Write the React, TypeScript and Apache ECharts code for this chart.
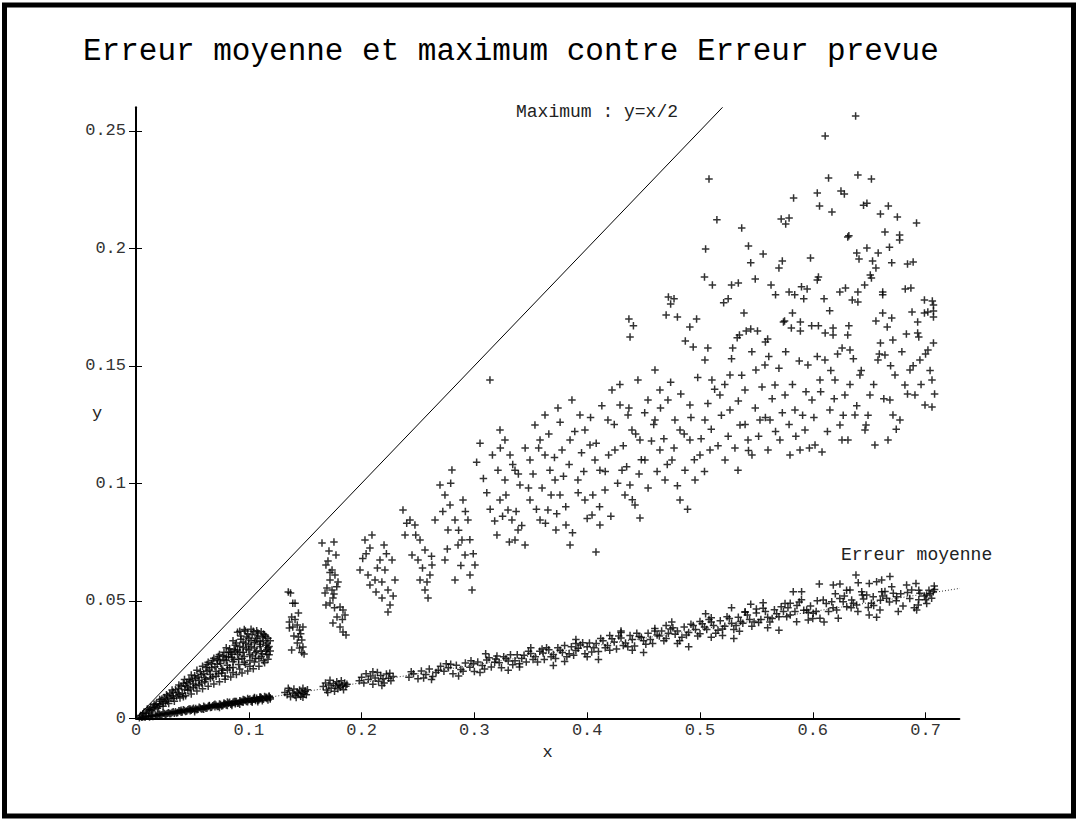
import React, { useEffect, useRef } from "react";
import * as echarts from "echarts";

const titleText = "Erreur moyenne et maximum contre Erreur prevue";
const maxLabel = "Maximum : y=x/2";
const meanLabel = "Erreur moyenne";
const xName = "x";
const yName = "y";

const xTicks = [0, 0.1, 0.2, 0.3, 0.4, 0.5, 0.6, 0.7];
const yTicks = [0, 0.05, 0.1, 0.15, 0.2, 0.25];
const xMax = 0.73;
const yMax = 0.26;

// reference lines
const maxLine = [[0, 0], [0.52, 0.26]];
const meanLine = [[0, 0], [0.7305, 0.0553]];

// maximum error: dense wedge near origin
const maxNear = [
  [0.004,0.0012],[0.006,0.0019],[0.009,0.0022],[0.011,0.0031],[0.012,0.0037],[0.014,0.0032],[0.016,0.0046],[0.017,0.0056],[0.019,0.0043],[0.021,0.0059],[0.022,0.0073],[0.024,0.0051],[0.026,0.0069],[0.025,0.0089],[0.027,0.0081],[0.029,0.0063],[0.031,0.0086],[0.030,0.0106],[0.032,0.0096],[0.034,0.0073],[0.036,0.0093],[0.035,0.0121],[0.037,0.0109],[0.039,0.0086],[0.041,0.0106],[0.040,0.0136],[0.042,0.0149],[0.043,0.0121],[0.044,0.0096],[0.046,0.0119],[0.045,0.0151],[0.047,0.0166],[0.046,0.0133],[0.049,0.0103],[0.051,0.0131],[0.050,0.0163],[0.052,0.0181],[0.051,0.0146],[0.054,0.0116],[0.056,0.0143],[0.055,0.0176],[0.057,0.0199],[0.056,0.0161],[0.059,0.0126],[0.061,0.0156],[0.060,0.0191],[0.062,0.0216],[0.061,0.0173],[0.063,0.0229],[0.064,0.0136],[0.066,0.0169],[0.065,0.0206],[0.067,0.0233],[0.066,0.0186],[0.068,0.0246],[0.069,0.0146],[0.071,0.0179],[0.070,0.0219],[0.072,0.0251],[0.071,0.0199],[0.073,0.0263],[0.074,0.0156],[0.076,0.0193],[0.075,0.0233],[0.077,0.0266],[0.076,0.0211],[0.078,0.0281],[0.079,0.0166],[0.081,0.0206],[0.080,0.0246],[0.082,0.0281],[0.081,0.0226],[0.083,0.0296],[0.080,0.0261],[0.084,0.0176],[0.086,0.0216],[0.085,0.0259],[0.087,0.0293],[0.086,0.0241],[0.088,0.0311],[0.085,0.0273],[0.089,0.0186],[0.091,0.0229],[0.090,0.0271],[0.092,0.0306],[0.091,0.0251],[0.093,0.0336],[0.090,0.0291],[0.090,0.0366],[0.094,0.0193],[0.096,0.0239],[0.095,0.0281],[0.097,0.0319],[0.096,0.0263],[0.098,0.0346],[0.095,0.0301],[0.097,0.0371],[0.099,0.0201],[0.101,0.0246],[0.100,0.0291],[0.102,0.0331],[0.101,0.0271],[0.103,0.0356],[0.100,0.0313],[0.102,0.0379],[0.104,0.0211],[0.106,0.0256],[0.105,0.0299],[0.107,0.0341],[0.106,0.0279],[0.108,0.0363],[0.105,0.0321],[0.107,0.0373],[0.109,0.0221],[0.111,0.0263],[0.110,0.0306],[0.112,0.0346],[0.111,0.0286],[0.113,0.0359],[0.110,0.0326],[0.114,0.0236],[0.116,0.0271],[0.115,0.0311],[0.117,0.0341],[0.116,0.0293],[0.114,0.0355],[0.117,0.0251],[0.119,0.0286],[0.118,0.0306]
];
const maxNearExtra = [
  [0.007,0.0025],[0.010,0.0040],[0.013,0.0048],[0.015,0.0038],[0.018,0.0062],[0.020,0.0050],[0.023,0.0082],[0.024,0.0064],[0.028,0.0095],[0.028,0.0074],[0.033,0.0112],[0.033,0.0085],[0.038,0.0128],[0.038,0.0100],[0.042,0.0092],[0.044,0.0140],[0.048,0.0158],[0.048,0.0125],[0.053,0.0170],[0.053,0.0138],[0.058,0.0185],[0.058,0.0150],[0.063,0.0200],[0.062,0.0165],[0.067,0.0215],[0.068,0.0176],[0.072,0.0230],[0.073,0.0190],[0.074,0.0245],[0.077,0.0205],[0.078,0.0250],[0.079,0.0180],[0.082,0.0262],[0.083,0.0215],[0.084,0.0280],[0.086,0.0195],[0.087,0.0250],[0.088,0.0285],[0.089,0.0320],[0.092,0.0210],[0.092,0.0280],[0.093,0.0350],[0.094,0.0255],[0.095,0.0325],[0.097,0.0230],[0.098,0.0295],[0.099,0.0360],[0.100,0.0340],[0.101,0.0222],[0.102,0.0305],[0.103,0.0265],[0.104,0.0370],[0.105,0.0240],[0.106,0.0330],[0.107,0.0285],[0.108,0.0350],[0.109,0.0255],[0.110,0.0315],[0.111,0.0368],[0.112,0.0275],[0.113,0.0330],[0.113,0.0245],[0.115,0.0285],[0.115,0.0348],[0.116,0.0320],[0.117,0.0300],[0.118,0.0270],[0.119,0.0330],[0.096,0.0378],[0.092,0.0370],[0.086,0.0330],[0.080,0.0300],[0.074,0.0272],[0.069,0.0256],[0.064,0.0238],[0.059,0.0222],[0.054,0.0205],[0.049,0.0184],[0.043,0.0165],[0.038,0.0142],[0.032,0.0120],[0.027,0.0100],[0.021,0.0080],[0.016,0.0060]
];

// maximum error: separated clusters 0.13 - 0.30
const maxClusters = [
  [0.135,0.0537],[0.137,0.0533],[0.139,0.0490],[0.141,0.0490],[0.144,0.0448],[0.138,0.0431],[0.136,0.0384],[0.139,0.0389],[0.143,0.0397],[0.145,0.0376],[0.148,0.0389],[0.144,0.0346],[0.147,0.0333],[0.143,0.0320],[0.148,0.0303],[0.145,0.0299],[0.138,0.0291],[0.149,0.0274],[0.136,0.0410],
  [0.141,0.0420],[0.146,0.0360],[0.140,0.0350],[0.147,0.0280],
  [0.1684,0.0652],[0.1738,0.0631],[0.1764,0.0610],[0.1720,0.0589],[0.1791,0.0580],[0.1693,0.0554],[0.1738,0.0546],[0.1746,0.0512],[0.1720,0.0491],[0.1809,0.0474],[0.1835,0.0461],[0.1853,0.0440],[0.1782,0.0431],[0.1746,0.0406],[0.1809,0.0389],[0.1835,0.0367],[0.1862,0.0355],[0.1684,0.0482],[0.1676,0.0533],[0.1755,0.0529],[0.1649,0.0746],[0.1755,0.0750],[0.1711,0.0712],[0.1773,0.0695],[0.1702,0.0669],
  [0.172,0.0620],[0.178,0.0560],[0.183,0.0420],[0.176,0.0470],
  [0.2030,0.0759],[0.2092,0.0780],[0.2074,0.0725],[0.2163,0.0674],[0.2207,0.0631],[0.2119,0.0589],[0.2074,0.0567],[0.2234,0.0546],[0.2181,0.0512],[0.2252,0.0482],[0.2234,0.0452],[0.1986,0.0631],[0.2057,0.0610],[0.2296,0.0589],[0.2128,0.0537],[0.2270,0.0674],[0.2199,0.0737],
  [0.204,0.0700],[0.214,0.0640],[0.218,0.0580],[0.222,0.0700],[0.228,0.0520],[0.201,0.0680],
  [0.2367,0.0886],[0.2429,0.0844],[0.2473,0.0823],[0.2518,0.0759],[0.2562,0.0716],[0.2500,0.0674],[0.2606,0.0610],[0.2562,0.0546],[0.2589,0.0512],[0.2385,0.0780],[0.2447,0.0695],[0.2624,0.0652],[0.2518,0.0589],[0.2651,0.0844],
  [0.240,0.0830],[0.248,0.0780],[0.254,0.0640],[0.258,0.0580],[0.262,0.0690],
  [0.2695,0.0993],[0.2739,0.0950],[0.2784,0.0908],[0.2828,0.0844],[0.2890,0.0759],[0.2917,0.0695],[0.2961,0.0610],[0.2979,0.0546],[0.2766,0.0801],[0.2855,0.0737],[0.3005,0.0652],[0.2801,0.1057],[0.2899,0.0929],[0.2943,0.0844],[0.2739,0.0674],[0.2828,0.0589],
  [0.272,0.0880],[0.276,0.0720],[0.279,0.1000],[0.286,0.0800],[0.288,0.0650],[0.292,0.0880],[0.296,0.0760],[0.299,0.0700]
];

// maximum error: middle cloud 0.30 - 0.71
const maxMid = [
  [0.3138,0.1440],[0.3227,0.1227],[0.3271,0.1184],[0.3316,0.1120],[0.3360,0.1056],[0.3404,0.0993],[0.3227,0.0929],[0.3298,0.0886],[0.3333,0.0844],[0.3387,0.0801],[0.3449,0.0737],[0.3360,0.0759],[0.3493,0.0929],[0.3209,0.1056],[0.3271,0.1014],
  [0.3537,0.1248],[0.3582,0.1184],[0.3626,0.1120],[0.3670,0.1056],[0.3715,0.1014],[0.3759,0.0950],[0.3652,0.0886],[0.3582,0.0844],[0.3723,0.0801],[0.3812,0.0823],[0.3848,0.0737],[0.3493,0.1099],[0.3777,0.1142],[0.3626,0.1291],[0.3741,0.1320],
  [0.3865,0.1354],[0.3936,0.1291],[0.3980,0.1227],[0.4025,0.1163],[0.4069,0.1099],[0.4113,0.1056],[0.3918,0.1014],[0.3980,0.0929],[0.4043,0.0865],[0.4113,0.0823],[0.4078,0.0708],[0.4158,0.0971],[0.3848,0.1184],[0.4184,0.1269],
  [0.4220,0.1397],[0.4291,0.1333],[0.4362,0.1291],[0.4397,0.1227],[0.4468,0.1184],[0.4512,0.1099],[0.4309,0.1056],[0.4379,0.0993],[0.4335,0.0950],[0.4424,0.0908],[0.4468,0.0852],[0.4246,0.1142],[0.4539,0.1354],[0.4450,0.1440],
  [0.4601,0.1482],[0.4645,0.1397],[0.4716,0.1354],[0.4778,0.1269],[0.4823,0.1227],[0.4911,0.1184],[0.4645,0.1142],[0.4752,0.1099],[0.4867,0.1056],[0.4956,0.1014],[0.4690,0.1014],[0.4823,0.0929],[0.5000,0.1120],[0.4601,0.1269],[0.4911,0.1333],
  [0.5044,0.1525],[0.5106,0.1440],[0.5177,0.1376],[0.5266,0.1312],[0.5355,0.1248],[0.5426,0.1184],[0.5089,0.1142],[0.5222,0.1099],[0.5337,0.1056],[0.5461,0.1120],[0.5532,0.1269],[0.5399,0.1397],[0.5496,0.1482],[0.5044,0.1269],[0.5266,0.1461],
  [0.5576,0.1503],[0.5665,0.1418],[0.5754,0.1376],[0.5842,0.1312],[0.5931,0.1227],[0.6020,0.1163],[0.5621,0.1269],[0.5709,0.1184],[0.5798,0.1120],[0.5887,0.1142],[0.5993,0.1354],[0.6064,0.1440],[0.5957,0.1503],[0.5603,0.1142],[0.6259,0.1184],
  [0.6108,0.1525],[0.6197,0.1440],[0.6285,0.1376],[0.6374,0.1291],[0.6463,0.1227],[0.6551,0.1163],[0.6152,0.1312],[0.6241,0.1248],[0.6330,0.1567],[0.6418,0.1461],[0.6507,0.1376],[0.6578,0.1525],[0.6082,0.1133],[0.6472,0.1248],[0.6312,0.1184],
  [0.6640,0.1546],[0.6729,0.1461],[0.6817,0.1418],[0.6906,0.1376],[0.6995,0.1333],[0.6684,0.1354],[0.6773,0.1269],[0.6862,0.1482],[0.6950,0.1525],[0.7057,0.1440],[0.6667,0.1184],[0.6711,0.1291],[0.7021,0.1567],[0.7057,0.1325]
];
const maxMidExtra = [
  [0.302,0.1090],[0.305,0.1170],[0.308,0.1020],[0.311,0.0960],[0.314,0.0890],[0.316,0.1120],[0.318,0.0840],[0.320,0.0780],[0.323,0.1150],[0.325,0.0860],[0.328,0.0950],[0.331,0.0750],[0.334,0.1080],[0.337,0.0880],[0.339,0.1040],[0.342,0.0820],[0.345,0.1150],[0.348,0.0980],
  [0.352,0.1040],[0.355,0.0890],[0.357,0.1150],[0.360,0.0980],[0.363,0.0830],[0.366,0.1210],[0.368,0.0950],[0.371,0.1110],[0.373,0.0870],[0.376,0.1260],[0.379,0.1030],[0.381,0.0900],[0.384,0.1080],[0.387,0.0790],[0.389,0.1220],[0.392,0.0960],[0.395,0.1130],[0.397,0.1050],[0.400,0.0850],
  [0.403,0.1280],[0.405,0.0950],[0.408,0.1170],[0.411,0.0900],[0.413,0.1330],[0.416,0.1050],[0.419,0.1120],[0.421,0.0860],[0.424,0.1250],[0.427,0.1000],[0.429,0.1420],[0.432,0.1160],[0.435,0.1070],[0.437,0.1320],[0.440,0.0930],[0.443,0.1210],[0.446,0.1040],[0.448,0.1100],[0.451,0.1300],[0.454,0.0980],[0.457,0.1180],[0.459,0.1250],
  [0.462,0.1050],[0.465,0.1320],[0.468,0.1190],[0.471,0.1080],[0.474,0.1430],[0.477,0.1150],[0.480,0.0990],[0.483,0.1380],[0.486,0.1210],[0.489,0.0890],[0.492,0.1280],[0.495,0.1100],[0.498,0.1450],[0.501,0.1190],[0.504,0.1050],[0.507,0.1340],[0.510,0.1230],[0.513,0.1400],[0.516,0.1160],[0.519,0.1290],
  [0.522,0.1420],[0.525,0.1200],[0.528,0.1530],[0.531,0.1150],[0.534,0.1350],[0.537,0.1460],[0.540,0.1250],[0.543,0.1140],[0.546,0.1560],[0.549,0.1320],[0.552,0.1200],[0.555,0.1410],[0.558,0.1280],[0.561,0.1540],[0.564,0.1360],[0.567,0.1220],[0.570,0.1490],[0.573,0.1300],[0.576,0.1560],[0.579,0.1250],[0.582,0.1420],[0.585,0.1200],[0.588,0.1520],[0.591,0.1290],[0.594,0.1390],[0.597,0.1150],
  [0.601,0.1280],[0.604,0.1540],[0.607,0.1390],[0.613,0.1220],[0.616,0.1480],[0.619,0.1360],[0.622,0.1550],[0.627,0.1290],[0.633,0.1420],[0.636,0.1530],[0.639,0.1330],[0.643,0.1480],[0.649,0.1290],[0.654,0.1420],[0.659,0.1550],[0.663,0.1360],[0.669,0.1500],[0.674,0.1230],[0.679,0.1560],[0.684,0.1380],[0.689,0.1500],[0.696,0.1420],[0.700,0.1550],[0.704,0.1480],[0.708,0.1380]
];

// maximum error: upper cloud
const maxFar = [
  [0.638,0.2563],[0.611,0.2478],[0.508,0.2295],[0.614,0.2299],[0.640,0.2312],[0.652,0.2295],[0.583,0.2214],[0.604,0.2235],[0.625,0.2244],[0.628,0.2231],[0.606,0.2180],[0.617,0.2154],[0.645,0.2183],[0.648,0.2192],[0.667,0.2180],[0.660,0.2146],[0.675,0.2133],[0.692,0.2108],[0.515,0.2121],[0.572,0.2125],[0.579,0.2129],[0.576,0.2103],[0.537,0.2086],[0.632,0.2053],[0.631,0.2048],[0.664,0.2069],[0.677,0.2057],[0.677,0.2035],[0.505,0.1997],[0.543,0.2010],[0.556,0.1976],[0.545,0.1938],[0.598,0.1959],[0.573,0.1946],[0.570,0.1916],[0.639,0.1980],[0.641,0.1955],[0.648,0.2001],[0.653,0.1946],[0.658,0.1980],[0.656,0.1916],[0.668,0.2005],[0.670,0.1938],[0.684,0.1933],[0.689,0.1942],[0.504,0.1878],[0.511,0.1844],[0.528,0.1844],[0.534,0.1852],[0.549,0.1869],[0.563,0.1844],[0.579,0.1814],[0.584,0.1802],[0.567,0.1802],[0.590,0.1836],[0.595,0.1827],[0.592,0.1785],[0.605,0.1878],[0.604,0.1865],[0.610,0.1785],[0.615,0.1734],[0.624,0.1814],[0.629,0.1831],[0.640,0.1814],[0.635,0.1780],[0.640,0.1772],[0.646,0.1844],[0.652,0.1874],[0.651,0.1886],[0.662,0.1814],[0.662,0.1802],[0.682,0.1827],[0.687,0.1831],[0.699,0.1780],[0.706,0.1776],[0.707,0.1759],[0.702,0.1729],[0.707,0.1733],[0.707,0.1708],[0.472,0.1793],[0.477,0.1785],[0.474,0.1763],[0.521,0.1768],[0.525,0.1785],[0.470,0.1716],[0.480,0.1708],[0.497,0.1699],[0.491,0.1665],[0.437,0.1699],[0.441,0.1670],[0.438,0.1623],[0.539,0.1725],[0.574,0.1686],[0.575,0.1691],[0.581,0.1661],[0.589,0.1686],[0.589,0.1648],[0.582,0.1725],[0.599,0.1670],[0.605,0.1670],[0.611,0.1640],[0.618,0.1661],[0.618,0.1631],[0.632,0.1670],[0.631,0.1631],[0.656,0.1691],[0.666,0.1665],[0.670,0.1703],[0.662,0.1725],[0.683,0.1635],[0.693,0.1640],[0.694,0.1623],[0.693,0.1686],[0.688,0.1729],[0.699,0.1725],[0.533,0.1619],[0.535,0.1631],[0.541,0.1648],[0.545,0.1657],[0.551,0.1648],[0.558,0.1601],[0.560,0.1614],[0.660,0.1597],[0.671,0.1610],[0.707,0.1597],[0.487,0.1606],[0.494,0.1580],[0.507,0.1576],[0.529,0.1576],[0.626,0.1576]
];

// mean error near origin
const meanNear = [
  [0.003,0.0002],[0.006,0.0006],[0.008,0.0004],[0.011,0.0009],[0.013,0.0011],[0.015,0.0008],[0.017,0.0014],[0.019,0.0012],[0.021,0.0017],[0.023,0.0015],[0.025,0.0020],[0.026,0.0016],[0.028,0.0022],[0.030,0.0019],[0.032,0.0025],[0.034,0.0022],[0.035,0.0028],[0.037,0.0025],[0.039,0.0031],[0.041,0.0027],[0.043,0.0033],[0.044,0.0029],[0.046,0.0036],[0.048,0.0032],[0.050,0.0039],[0.052,0.0035],[0.053,0.0042],[0.055,0.0038],[0.057,0.0044],[0.059,0.0041],[0.061,0.0047],[0.062,0.0043],[0.064,0.0050],[0.066,0.0046],[0.068,0.0053],[0.070,0.0049],[0.071,0.0056],[0.073,0.0051],[0.075,0.0059],[0.077,0.0054],[0.079,0.0062],[0.080,0.0057],[0.082,0.0064],[0.084,0.0060],[0.086,0.0068],[0.088,0.0062],[0.089,0.0071],[0.091,0.0065],[0.093,0.0073],[0.095,0.0068],[0.097,0.0076],[0.098,0.0071],[0.100,0.0079],[0.102,0.0073],[0.104,0.0082],[0.106,0.0076],[0.107,0.0085],[0.109,0.0079],[0.111,0.0088],[0.113,0.0081],[0.115,0.0090],[0.116,0.0084],[0.118,0.0092],[0.119,0.0087],
  [0.060,0.0038],[0.070,0.0060],[0.085,0.0055],[0.095,0.0080],[0.103,0.0068],[0.110,0.0092],[0.117,0.0078],[0.092,0.0060],[0.078,0.0065],[0.065,0.0055],[0.048,0.0040],[0.040,0.0034],[0.052,0.0028],[0.105,0.0088],[0.112,0.0075],[0.099,0.0084],[0.088,0.0072],[0.074,0.0046],[0.081,0.0069],[0.108,0.0070]
];
const meanNearExtra = [
  [0.005,0.0005],[0.009,0.0009],[0.012,0.0006],[0.014,0.0013],[0.018,0.0010],[0.020,0.0018],[0.022,0.0013],[0.024,0.0021],[0.027,0.0018],[0.029,0.0024],[0.031,0.0020],[0.033,0.0028],[0.036,0.0023],[0.038,0.0032],[0.040,0.0026],[0.042,0.0036],[0.045,0.0031],[0.047,0.0040],[0.049,0.0034],[0.051,0.0043],[0.054,0.0036],[0.056,0.0047],[0.058,0.0040],[0.060,0.0051],[0.063,0.0044],[0.065,0.0053],[0.067,0.0047],[0.069,0.0057],[0.072,0.0050],[0.074,0.0061],[0.076,0.0052],[0.078,0.0060],[0.081,0.0055],[0.083,0.0068],[0.085,0.0062],[0.087,0.0072],[0.090,0.0064],[0.092,0.0075],[0.094,0.0069],[0.096,0.0078],[0.099,0.0070],[0.101,0.0082],[0.103,0.0075],[0.105,0.0085],[0.108,0.0077],[0.110,0.0087],[0.112,0.0083],[0.114,0.0093],[0.116,0.0088],[0.118,0.0095],[0.119,0.0082]
];

// mean error clusters 0.13 - 0.23
const meanClusters = [
  [0.132,0.0110],[0.134,0.0100],[0.136,0.0118],[0.137,0.0092],[0.139,0.0108],[0.140,0.0125],[0.141,0.0098],[0.143,0.0112],[0.144,0.0104],[0.145,0.0120],[0.146,0.0094],[0.147,0.0110],[0.148,0.0128],[0.149,0.0105],[0.150,0.0116],[0.151,0.0100],[0.152,0.0122],[0.135,0.0128],[0.142,0.0088],[0.148,0.0090],
  [0.166,0.0135],[0.168,0.0150],[0.169,0.0120],[0.171,0.0142],[0.172,0.0162],[0.173,0.0128],[0.175,0.0148],[0.176,0.0115],[0.177,0.0138],[0.178,0.0156],[0.179,0.0126],[0.180,0.0145],[0.181,0.0132],[0.182,0.0160],[0.183,0.0140],[0.184,0.0122],[0.185,0.0150],[0.186,0.0136],[0.187,0.0145],[0.170,0.0110],
  [0.198,0.0160],[0.200,0.0175],[0.202,0.0150],[0.204,0.0190],[0.206,0.0165],[0.208,0.0180],[0.210,0.0145],[0.212,0.0172],[0.214,0.0195],[0.215,0.0158],[0.217,0.0182],[0.219,0.0168],[0.220,0.0150],[0.222,0.0188],[0.224,0.0170],[0.226,0.0160],[0.228,0.0178],[0.210,0.0198],[0.218,0.0140],[0.225,0.0192]
];

// mean error band 0.24 - 0.71
const meanBand = [
  [0.242,0.0175],[0.246,0.0190],[0.250,0.0168],[0.253,0.0201],[0.257,0.0186],[0.260,0.0210],[0.263,0.0178],[0.266,0.0195],[0.270,0.0222],[0.273,0.0200],
  [0.277,0.0215],[0.281,0.0190],[0.284,0.0226],[0.288,0.0208],[0.292,0.0235],[0.296,0.0217],[0.300,0.0199],[0.303,0.0240],[0.307,0.0225],[0.311,0.0248],
  [0.315,0.0218],[0.319,0.0252],[0.322,0.0236],[0.326,0.0262],[0.330,0.0244],[0.334,0.0228],[0.338,0.0270],[0.342,0.0255],[0.346,0.0240],[0.350,0.0276],
  [0.354,0.0262],[0.358,0.0285],[0.362,0.0250],[0.366,0.0292],[0.370,0.0272],[0.374,0.0300],[0.378,0.0280],[0.382,0.0262],[0.386,0.0305],[0.390,0.0288],
  [0.394,0.0312],[0.398,0.0275],[0.402,0.0320],[0.406,0.0300],[0.410,0.0284],[0.414,0.0330],[0.418,0.0310],[0.422,0.0338],[0.426,0.0295],[0.430,0.0342],
  [0.434,0.0320],[0.438,0.0352],[0.442,0.0308],[0.446,0.0348],[0.450,0.0330],[0.454,0.0362],[0.458,0.0318],[0.462,0.0355],[0.466,0.0372],[0.470,0.0340],
  [0.474,0.0380],[0.478,0.0358],[0.482,0.0330],[0.486,0.0388],[0.490,0.0365],[0.494,0.0395],[0.498,0.0350],[0.502,0.0402],[0.506,0.0378],[0.510,0.0410],
  [0.514,0.0362],[0.518,0.0415],[0.522,0.0392],[0.526,0.0425],[0.530,0.0378],[0.534,0.0430],[0.538,0.0405],[0.542,0.0440],[0.546,0.0392],[0.550,0.0448],
  [0.554,0.0420],[0.558,0.0455],[0.562,0.0410],[0.566,0.0462],[0.570,0.0432],
  [0.505,0.0445],[0.528,0.0470],[0.545,0.0485],[0.556,0.0492],[0.475,0.0410],[0.430,0.0372],[0.390,0.0335],[0.510,0.0345],[0.535,0.0370],
  [0.244,0.0198],[0.255,0.0172],[0.268,0.0205],[0.279,0.0230],[0.290,0.0200],[0.299,0.0232],[0.309,0.0210],[0.318,0.0238],[0.328,0.0255],[0.336,0.0245],[0.344,0.0268],[0.352,0.0250],[0.361,0.0278],[0.368,0.0262],[0.376,0.0290],[0.384,0.0275],[0.392,0.0298],[0.400,0.0305],[0.408,0.0318],[0.416,0.0300],[0.424,0.0325],[0.432,0.0310],[0.440,0.0335],[0.448,0.0345],[0.456,0.0335],[0.464,0.0350],[0.472,0.0362],[0.480,0.0372],[0.488,0.0355],[0.496,0.0378],[0.504,0.0388],[0.512,0.0395],[0.520,0.0380],[0.528,0.0405],[0.536,0.0412],[0.544,0.0420],[0.552,0.0408],[0.560,0.0430],[0.568,0.0445],[0.574,0.0455],[0.578,0.0470],[0.586,0.0480],[0.592,0.0460],[0.598,0.0478],[0.603,0.0455],[0.612,0.0488],[0.618,0.0470],[0.628,0.0520],[0.636,0.0490],[0.645,0.0508],[0.652,0.0490],[0.662,0.0520],[0.668,0.0495],[0.678,0.0530],[0.686,0.0510],[0.694,0.0545],[0.699,0.0520],[0.704,0.0530],[0.708,0.0548],
  [0.6383,0.0610],[0.6058,0.0572],[0.6182,0.0567],[0.6241,0.0572],[0.6403,0.0577],[0.6501,0.0574],[0.6566,0.0581],[0.6611,0.0589],[0.6684,0.0603],[0.6832,0.0567],[0.6915,0.0574],[0.7077,0.0563],[0.5827,0.0539],[0.5901,0.0539],[0.6330,0.0546],[0.6434,0.0539],[0.6611,0.0539],[0.6714,0.0532],[0.6877,0.0546],[0.6950,0.0532],[0.6093,0.0503],[0.6168,0.0496],[0.6270,0.0496],[0.6345,0.0503],[0.6478,0.0525],[0.6536,0.0517],[0.6655,0.0511],[0.6744,0.0517],[0.7010,0.0525],[0.7068,0.0539],[0.5754,0.0489],[0.5842,0.0454],[0.5946,0.0461],[0.6004,0.0447],[0.6212,0.0461],[0.6301,0.0475],[0.6389,0.0482],[0.6492,0.0472],[0.6596,0.0461],[0.6758,0.0454],[0.6935,0.0482],[0.7054,0.0511],[0.5769,0.0432],[0.5857,0.0411],[0.5960,0.0418],[0.6064,0.0426],[0.6226,0.0426],[0.6566,0.0430],[0.7010,0.0489],[0.6921,0.0461]
];
const meanBandExtra = [
  [0.262,0.0165],[0.275,0.0232],[0.286,0.0180],[0.297,0.0245],[0.305,0.0195],[0.313,0.0258],[0.324,0.0215],[0.332,0.0270],[0.340,0.0232],[0.348,0.0285],[0.356,0.0240],[0.364,0.0300],[0.372,0.0255],[0.380,0.0310],[0.388,0.0268],[0.396,0.0322],[0.404,0.0282],[0.412,0.0340],[0.420,0.0290],[0.428,0.0350],[0.436,0.0305],[0.444,0.0362],[0.452,0.0315],[0.460,0.0372],[0.468,0.0330],[0.476,0.0385],[0.484,0.0345],[0.492,0.0400],[0.500,0.0360],[0.508,0.0420],[0.516,0.0375],[0.524,0.0432],[0.532,0.0395],[0.540,0.0452],[0.548,0.0410],[0.556,0.0468],[0.564,0.0425],[0.572,0.0475],[0.580,0.0440],[0.588,0.0495],[0.596,0.0450],[0.604,0.0500],[0.614,0.0455],[0.624,0.0510],[0.634,0.0470],[0.644,0.0525],[0.654,0.0480],[0.664,0.0540],[0.674,0.0500],[0.684,0.0535],[0.694,0.0505],[0.703,0.0545]
];
const meanSpread = [
  [0.31,0.0275],[0.33,0.0205],[0.35,0.0300],[0.37,0.0225],[0.39,0.0318],[0.41,0.0250],[0.43,0.0365],[0.45,0.0280],[0.47,0.0395],[0.49,0.0305],[0.51,0.0428],[0.53,0.0340],[0.55,0.0465],[0.57,0.0375],[0.59,0.0505],[0.61,0.0410],[0.63,0.0545],[0.65,0.0440],[0.67,0.0560],[0.69,0.0470],
  [0.40,0.0262],[0.42,0.0352],[0.44,0.0290],[0.46,0.0382],[0.48,0.0318],[0.50,0.0412],[0.52,0.0352],[0.54,0.0452],[0.56,0.0385],[0.58,0.0490],[0.60,0.0425],[0.62,0.0530],[0.64,0.0455],[0.66,0.0502],[0.68,0.0478],[0.70,0.0505],[0.32,0.0265],[0.34,0.0218],[0.36,0.0295],[0.38,0.0242]
];

const FONT = "'Liberation Mono', 'DejaVu Sans Mono', monospace";
const PLUS = "path://M-0.2,-1H0.2V-0.2H1V0.2H0.2V1H-0.2V0.2H-1V-0.2H-0.2Z";

export default function App() {
  const ref = useRef<HTMLDivElement>(null);
  useEffect(() => {
    if (!ref.current) return;
    const chart = echarts.init(ref.current, null, { renderer: "svg" });
    const scatterBase = {
      type: "scatter",
      symbol: PLUS,
      symbolSize: 7.5,
      itemStyle: { color: "#000" },
      silent: true,
      z: 3,
    };
    chart.setOption({
      animation: false,
      backgroundColor: "#fff",
      title: {
        text: titleText,
        left: 78,
        top: 31,
        textStyle: { fontFamily: FONT, fontSize: 31, fontWeight: "normal", color: "#000" },
      },
      grid: { left: 136, top: 107.3, right: 118.6, bottom: 102.7, containLabel: false },
      xAxis: {
        type: "value",
        min: 0,
        max: xMax,
        name: xName,
        nameLocation: "middle",
        nameGap: 18,
        nameTextStyle: { fontFamily: FONT, fontSize: 17, color: "#222" },
        axisLine: { onZero: false, lineStyle: { color: "#000", width: 2 } },
        axisTick: { customValues: xTicks, inside: true, length: 6, lineStyle: { color: "#000", width: 1 } },
        axisLabel: { customValues: xTicks, fontFamily: FONT, fontSize: 17, color: "#333", margin: 4 },
        splitLine: { show: false },
      },
      yAxis: [
        {
          type: "value",
          min: 0,
          max: yMax,
          axisLine: { onZero: false, lineStyle: { color: "#000", width: 2 } },
          axisTick: { customValues: yTicks, inside: false, length: 7, lineStyle: { color: "#000", width: 1 } },
          axisLabel: { customValues: yTicks, fontFamily: FONT, fontSize: 17, color: "#333", margin: 10 },
          splitLine: { show: false },
        },
        {
          type: "value",
          position: "left",
          min: 0,
          max: yMax,
          axisLine: { show: false },
          axisTick: { show: true, customValues: yTicks, inside: true, length: 6, lineStyle: { color: "#000", width: 1 } },
          axisLabel: { show: false },
          splitLine: { show: false },
        },
      ],
      graphic: [
        {
          type: "rect",
          shape: { x: 4.5, y: 5, width: 1069, height: 811 },
          style: { fill: "none", stroke: "#000", lineWidth: 5 },
          silent: true,
        },
        {
          type: "text",
          x: 97,
          y: 413,
          style: { text: yName, fontFamily: FONT, fontSize: 17, fill: "#222", textAlign: "center", textVerticalAlign: "middle" },
        },
        {
          type: "text",
          x: 516,
          y: 112,
          style: { text: maxLabel, fontFamily: FONT, fontSize: 18, fill: "#222", textAlign: "left", textVerticalAlign: "middle" },
        },
        {
          type: "text",
          x: 841,
          y: 555,
          style: { text: meanLabel, fontFamily: FONT, fontSize: 18, fill: "#222", textAlign: "left", textVerticalAlign: "middle" },
        },
      ],
      series: [
        {
          type: "line",
          data: maxLine,
          symbol: "none",
          lineStyle: { color: "#000", width: 1 },
          silent: true,
          z: 2,
        },
        {
          type: "line",
          data: meanLine,
          symbol: "none",
          lineStyle: { color: "#333", width: 1, type: [1, 2] },
          silent: true,
          z: 2,
        },
        { ...scatterBase, name: "max", data: [...maxNear, ...maxNearExtra, ...maxClusters, ...maxMid, ...maxMidExtra, ...maxFar] },
        { ...scatterBase, name: "mean", data: [...meanNear, ...meanNearExtra, ...meanClusters, ...meanBand, ...meanBandExtra, ...meanSpread] },
      ],
    });
    return () => chart.dispose();
  }, []);
  return (
    <div
      ref={ref}
      style={{ position: "fixed", left: 0, top: 0, width: 1078, height: 821, background: "#fff" }}
    />
  );
}
